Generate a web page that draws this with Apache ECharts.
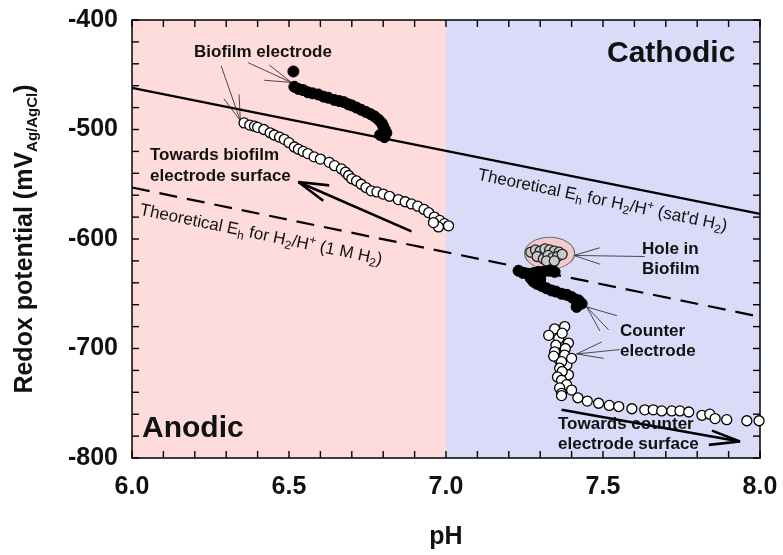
<!DOCTYPE html>
<html lang="en">
<head>
    <meta charset="UTF-8" />
    <title>Redox potential vs pH</title>
    <script src="https://cdn.jsdelivr.net/npm/echarts@6/dist/echarts.min.js"></script>
</head>
<style>
    * { margin: 0; padding: 0; }
    #main { width: 783px; height: 555px; background: #fff; }
</style>
<body>
    <div id="main"></div>
</body>
<script>
    // x ticks / y ticks
    const xTicks = [6.0, 6.5, 7.0, 7.5, 8.0];
    const yTicks = [-800, -700, -600, -500, -400];
    // tick mark positions (major + minor)
    const xTickMarks = [6.0, 6.1, 6.2, 6.3, 6.4, 6.5, 6.6, 6.7, 6.8, 6.9, 7.0,
        7.1, 7.2, 7.3, 7.4, 7.5, 7.6, 7.7, 7.8, 7.9, 8.0];
    const yTickMarks = [-800, -780, -760, -740, -720, -700, -680, -660, -640, -620, -600,
        -580, -560, -540, -520, -500, -480, -460, -440, -420, -400];

    // anodic / cathodic zones (pH from, pH to)
    const zones = [[6.0, 7.0], [7.0, 8.0]];
    const zoneColors = ["#fddcdb", "#dadaf9"];

    // theoretical Eh lines (pH, mV)
    const satdLine = [[6.0, -462], [8.0, -577]];
    const oneMLine = [[6.0, -553], [8.0, -671]];

    // biofilm electrode, filled symbols
    const bioFilled = [
        [6.514, -447],
        [6.517, -461], [6.53, -463], [6.545, -464], [6.56, -466], [6.575, -467],
        [6.593, -468], [6.61, -470], [6.625, -471], [6.644, -473], [6.66, -474],
        [6.675, -475], [6.689, -477], [6.70, -478], [6.715, -480], [6.73, -482],
        [6.745, -484], [6.76, -486], [6.772, -488], [6.785, -491], [6.795, -494],
        [6.80, -497], [6.805, -500], [6.81, -503], [6.804, -507], [6.79, -505]
    ];

    // biofilm side, open symbols
    const bioOpen = [
        [6.357, -494], [6.375, -496], [6.39, -497], [6.40, -498], [6.42, -500],
        [6.44, -503], [6.453, -505], [6.47, -507], [6.485, -509], [6.50, -512],
        [6.517, -516], [6.53, -518], [6.545, -520], [6.56, -522], [6.58, -525],
        [6.60, -527], [6.628, -530], [6.645, -533], [6.667, -536], [6.68, -539],
        [6.69, -542], [6.70, -545], [6.715, -547], [6.73, -550], [6.745, -553],
        [6.762, -556], [6.78, -557], [6.80, -559], [6.82, -561], [6.848, -564],
        [6.87, -566], [6.89, -568], [6.91, -570], [6.93, -573], [6.945, -576],
        [6.963, -580], [6.98, -583], [6.995, -586], [6.976, -589], [7.008, -588],
        [6.96, -585]
    ];

    // hole in biofilm
    const holeCenter = [[7.33, -613]];
    const holePts = [
        [7.27, -612], [7.285, -610], [7.30, -611], [7.315, -609], [7.33, -610],
        [7.345, -611], [7.36, -612], [7.29, -616], [7.31, -618], [7.325, -615],
        [7.34, -617], [7.355, -616], [7.37, -614], [7.32, -620], [7.345, -620]
    ];

    // counter electrode, filled symbols
    const counterFilled = [
        [7.231, -629], [7.245, -631], [7.263, -632], [7.28, -631], [7.295, -630],
        [7.31, -630], [7.33, -629], [7.346, -630], [7.27, -636], [7.30, -637],
        [7.279, -639], [7.29, -641], [7.305, -643], [7.32, -645], [7.336, -647],
        [7.35, -648], [7.368, -650], [7.385, -651], [7.40, -653], [7.41, -655],
        [7.422, -656], [7.432, -659], [7.416, -662]
    ];

    // counter electrode side, open symbols
    const counterOpen = [
        [7.346, -682], [7.378, -680], [7.327, -688], [7.359, -691], [7.39, -695],
        [7.37, -686], [7.35, -697], [7.38, -700], [7.36, -710], [7.385, -715],
        [7.346, -703], [7.378, -706], [7.40, -709], [7.343, -707], [7.368, -712],
        [7.362, -718], [7.39, -724], [7.37, -721], [7.355, -726], [7.368, -729],
        [7.384, -733], [7.362, -736], [7.40, -738], [7.368, -741], [7.368, -743],
        [7.42, -745], [7.45, -748], [7.486, -750], [7.52, -752], [7.55, -753],
        [7.592, -755], [7.633, -756], [7.66, -756], [7.687, -757], [7.719, -757],
        [7.745, -757], [7.773, -758], [7.815, -761], [7.84, -760], [7.857, -764],
        [7.894, -765], [7.958, -766], [7.997, -766]
    ];

    // leader lines from labels to data
    const leaders = [
        [[6.37, -439], [6.507, -457]],
        [[6.437, -441], [6.507, -457]],
        [[6.421, -455], [6.507, -457]],
        [[6.284, -442], [6.345, -492]],
        [[6.293, -472], [6.345, -492]],
        [[6.341, -468], [6.345, -492]],
        [[7.49, -608], [7.407, -615]],
        [[7.633, -616], [7.407, -615]],
        [[7.49, -623], [7.407, -615]],
        [[7.544, -670], [7.448, -662]],
        [[7.518, -683], [7.448, -662]],
        [[7.49, -684], [7.448, -662]],
        [[7.496, -694], [7.416, -705]],
        [[7.553, -701], [7.416, -705]],
        [[7.502, -709], [7.416, -705]]
    ];

    // arrows: shaft + two wings
    const arrows = [
        [[6.89, -593], [6.53, -548]],
        [[6.628, -551], [6.53, -548], [6.609, -565]],
        [[7.368, -756], [7.936, -785]],
        [[7.847, -775], [7.936, -785], [7.837, -788]]
    ];

    const FONT = "'Liberation Sans', Arial, Helvetica, sans-serif";
    const X_MIN = xTickMarks[0], X_MAX = xTickMarks[xTickMarks.length - 1];
    const Y_MIN = yTickMarks[0], Y_MAX = yTickMarks[yTickMarks.length - 1];
    const TICK_PX = 7;

    var myChart = echarts.init(document.getElementById("main"));

    function lineSeries(data, width, color, type) {
        return {
            type: "line",
            data: data,
            xAxisIndex: 0,
            yAxisIndex: 0,
            showSymbol: false,
            symbol: "none",
            silent: true,
            z: 3,
            lineStyle: { width: width, color: color, type: type || "solid" },
        };
    }

    // frame axis (top / right): line only
    function frameAxis(pos, min, max, interval) {
        return {
            type: "value",
            position: pos,
            min: min,
            max: max,
            interval: interval,
            axisLine: { show: true, lineStyle: { color: "#000", width: 1.5 } },
            axisTick: { show: false },
            splitLine: { show: false },
            axisLabel: { show: false },
        };
    }

    const richStyle = {
        b: { fontSize: 17, fontFamily: FONT, lineHeight: 22, fill: "#111" },
        sub: { fontSize: 12, fontFamily: FONT, lineHeight: 10, verticalAlign: "bottom", fill: "#111" },
        sup: { fontSize: 12, fontFamily: FONT, lineHeight: 10, verticalAlign: "top", fill: "#111" },
    };

    function label(x, y, text, size, weight) {
        return {
            type: "text",
            x: x,
            y: y,
            z: 20,
            style: {
                text: text,
                fontSize: size,
                fontWeight: weight || "bold",
                fontFamily: FONT,
                fill: "#111",
                align: "left",
                verticalAlign: "middle",
            },
        };
    }

    const textLabels = [
        label(607, 54, "Cathodic", 30),
        label(142, 429, "Anodic", 30),
        label(194, 52, "Biofilm electrode", 17),
        label(150, 155, "Towards biofilm", 17),
        label(150, 176, "electrode surface", 17),
        label(642, 249, "Hole in", 17),
        label(642, 269, "Biofilm", 17),
        label(620, 331, "Counter", 17),
        label(620, 351, "electrode", 17),
        label(558, 424, "Towards counter", 17),
        label(558, 444, "electrode surface", 17),
        {
            type: "text",
            x: 478,
            y: 175,
            rotation: -0.204,
            z: 20,
            style: {
                text: "{b|Theoretical E}{sub|h}{b| for H}{sub|2}{b|/H}{sup|+}{b| (sat'd H}{sub|2}{b|)}",
                align: "left",
                verticalAlign: "middle",
                rich: richStyle,
            },
        },
        {
            type: "text",
            x: 140,
            y: 210,
            rotation: -0.204,
            z: 20,
            style: {
                text: "{b|Theoretical E}{sub|h}{b| for H}{sub|2}{b|/H}{sup|+}{b| (1 M H}{sub|2}{b|)}",
                align: "left",
                verticalAlign: "middle",
                rich: richStyle,
            },
        },
    ];

    var option = {
        animation: false,
        grid: { left: 132, right: 23, top: 20, bottom: 94 },
        xAxis: [
            {
                type: "value",
                min: 6,
                max: 8,
                interval: 0.5,
                axisLine: { lineStyle: { color: "#000", width: 1.5 } },
                axisTick: { show: false },
                splitLine: { show: false },
                axisLabel: {
                    margin: 17,
                    color: "#111",
                    fontSize: 25,
                    fontWeight: "bold",
                    fontFamily: FONT,
                    formatter: (v) => (xTicks.includes(v) ? v.toFixed(1) : ""),
                },
                name: "pH",
                nameLocation: "middle",
                nameGap: 67,
                nameTextStyle: { fontSize: 25, fontWeight: "bold", fontFamily: FONT, color: "#111" },
            },
            frameAxis("top", 6, 8, 0.5),
        ],
        yAxis: [
            {
                type: "value",
                min: -800,
                max: -400,
                interval: 100,
                axisLine: { show: true, lineStyle: { color: "#000", width: 1.5 } },
                axisTick: { show: false },
                splitLine: { show: false },
                axisLabel: {
                    margin: 14,
                    color: "#111",
                    fontSize: 25,
                    fontWeight: "bold",
                    fontFamily: FONT,
                    formatter: (v) => (yTicks.includes(v) ? String(v) : ""),
                },
                name: "{b|Redox potential (mV}{s|Ag/AgCl}{b|)}",
                nameLocation: "middle",
                nameGap: 92,
                nameRotate: 90,
                nameTextStyle: {
                    color: "#111",
                    rich: {
                        b: { fontSize: 25, fontWeight: "bold", fontFamily: FONT, color: "#111", lineHeight: 30 },
                        s: { fontSize: 15, fontWeight: "bold", fontFamily: FONT, color: "#111", lineHeight: 12, verticalAlign: "bottom" },
                    },
                },
            },
            frameAxis("right", -800, -400, 100),
        ],
        series: [
            {
                // anodic / cathodic background bands
                type: "custom",
                data: zones,
                silent: true,
                z: -5,
                encode: { x: [0, 1] },
                renderItem: function (params, api) {
                    const p0 = api.coord([api.value(0), Y_MAX]);
                    const p1 = api.coord([api.value(1), Y_MIN]);
                    return {
                        type: "rect",
                        shape: { x: p0[0], y: p0[1], width: p1[0] - p0[0], height: p1[1] - p0[1] },
                        style: { fill: zoneColors[params.dataIndex] },
                    };
                },
            },
            lineSeries(satdLine, 2.2, "#000"),
            lineSeries(oneMLine, 2.2, "#000", [18, 10]),
            ...leaders.map((seg) => lineSeries(seg, 0.8, "#222")),
            ...arrows.map((seg) => lineSeries(seg, 2.6, "#000")),
            {
                type: "scatter",
                data: holeCenter,
                symbol: "circle",
                symbolSize: [50, 32],
                silent: true,
                z: 4,
                itemStyle: { color: "#f5c6c2", borderColor: "#555", borderWidth: 1 },
            },
            {
                type: "scatter",
                data: bioFilled,
                symbolSize: 11,
                z: 5,
                itemStyle: { color: "#000", borderColor: "#000", borderWidth: 1, opacity: 1 },
            },
            {
                type: "scatter",
                data: bioOpen,
                symbolSize: 10,
                z: 5,
                itemStyle: { color: "#fff", borderColor: "#000", borderWidth: 1.3, opacity: 1 },
            },
            {
                type: "scatter",
                data: holePts,
                symbolSize: 10,
                z: 5,
                itemStyle: { color: "#c8c8c8", borderColor: "#222", borderWidth: 1.3, opacity: 1 },
            },
            {
                type: "scatter",
                data: counterFilled,
                symbolSize: 11,
                z: 5,
                itemStyle: { color: "#000", borderColor: "#000", borderWidth: 1, opacity: 1 },
            },
            {
                type: "scatter",
                data: counterOpen,
                symbolSize: 10,
                z: 5,
                itemStyle: { color: "#fff", borderColor: "#000", borderWidth: 1.3, opacity: 1 },
            },
        ],
        graphic: textLabels,
    };
    myChart.setOption(option);

    // inward tick marks on all four sides, placed through the chart's own scales
    const tickGraphics = [];
    const tickStyle = { stroke: "#000", lineWidth: 1.4 };
    xTickMarks.forEach((v) => {
        const b = myChart.convertToPixel({ gridIndex: 0 }, [v, Y_MIN]);
        const t = myChart.convertToPixel({ gridIndex: 0 }, [v, Y_MAX]);
        tickGraphics.push({ type: "line", z: 30, silent: true, shape: { x1: b[0], y1: b[1], x2: b[0], y2: b[1] - TICK_PX }, style: tickStyle });
        tickGraphics.push({ type: "line", z: 30, silent: true, shape: { x1: t[0], y1: t[1], x2: t[0], y2: t[1] + TICK_PX }, style: tickStyle });
    });
    yTickMarks.forEach((v) => {
        const l = myChart.convertToPixel({ gridIndex: 0 }, [X_MIN, v]);
        const r = myChart.convertToPixel({ gridIndex: 0 }, [X_MAX, v]);
        tickGraphics.push({ type: "line", z: 30, silent: true, shape: { x1: l[0], y1: l[1], x2: l[0] + TICK_PX, y2: l[1] }, style: tickStyle });
        tickGraphics.push({ type: "line", z: 30, silent: true, shape: { x1: r[0], y1: r[1], x2: r[0] - TICK_PX, y2: r[1] }, style: tickStyle });
    });
    myChart.setOption({ graphic: textLabels.concat(tickGraphics) });
</script>
</html>
